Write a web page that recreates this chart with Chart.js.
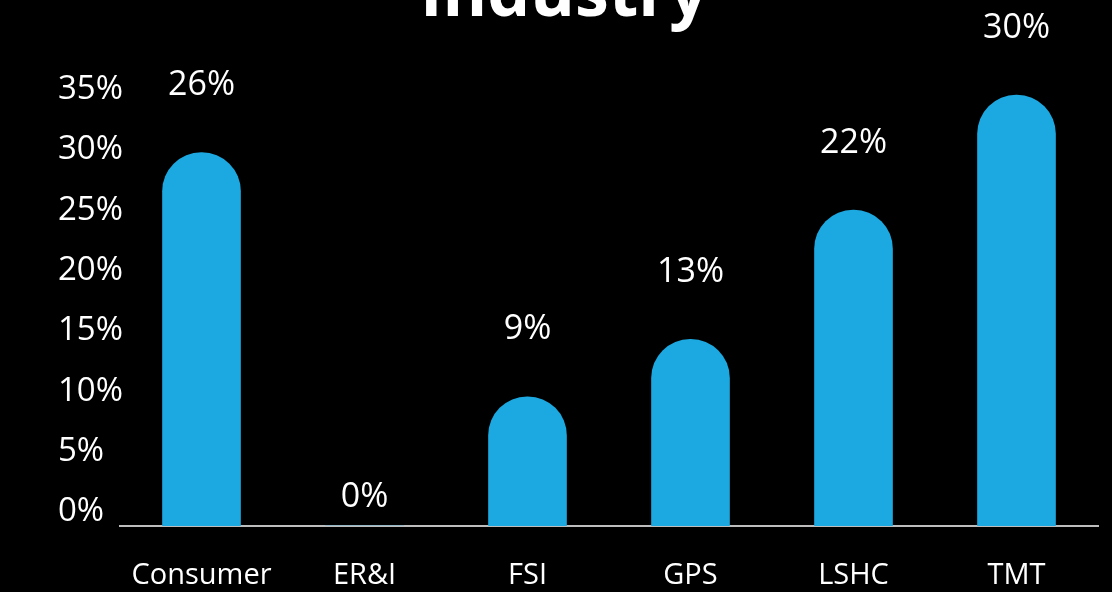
<!DOCTYPE html>
<html>
<head>
    <title>Industry</title>
    <style>
        html, body { margin: 0; padding: 0; background: #000; overflow: hidden; }
        #wrap { position: relative; width: 1112px; height: 592px; }
    </style>
</head>
<body>
    <div id="wrap"><canvas id="industryChart"></canvas></div>
    <script src="https://cdn.jsdelivr.net/npm/chart.js"></script>
    <script>
        const titleText = "Industry";
        const categories = ["Consumer", "ER&I", "FSI", "GPS", "LSHC", "TMT"];
        const shares = [26, 0, 9, 13, 22, 30];
        const tickValues = [0, 5, 10, 15, 20, 25, 30, 35];

        const barBlue = "#1ca9e1";
        const fontFamily = "'Open Sans', 'Noto Sans', sans-serif";

        // prints the percentage above each bar
        const valueLabels = {
            id: "valueLabels",
            afterDatasetsDraw(chart) {
                const ctx = chart.ctx;
                const meta = chart.getDatasetMeta(0);
                ctx.save();
                ctx.fillStyle = "#ffffff";
                ctx.font = "34px " + fontFamily;
                ctx.textAlign = "center";
                ctx.textBaseline = "middle";
                meta.data.forEach((bar, i) => {
                    const v = shares[i];
                    const gap = v ? 67 : 29;
                    ctx.fillText(v + "%", bar.x, bar.y - gap);
                });
                ctx.restore();
            }
        };

        // y labels start a little further in than the title padding allows
        const yLabelIndent = {
            id: "yLabelIndent",
            afterLayout(chart) {
                const y = chart.scales.y;
                y.left = 58;
                y.right = 140;
            }
        };

        const ctx = document.getElementById("industryChart").getContext("2d");
        new Chart(ctx, {
            type: "bar",
            data: {
                labels: categories,
                datasets: [{
                    data: shares,
                    yAxisID: "yBars",
                    backgroundColor: barBlue,
                    borderRadius: { topLeft: 100, topRight: 100, bottomLeft: 0, bottomRight: 0 },
                    borderSkipped: "start",
                    barThickness: 78
                }]
            },
            options: {
                responsive: true,
                maintainAspectRatio: false,
                animation: false,
                layout: { padding: { left: 30, right: 14, top: 0, bottom: 0 } },
                plugins: {
                    legend: { display: false },
                    tooltip: { enabled: false },
                    title: {
                        display: true,
                        text: titleText,
                        color: "#ffffff",
                        font: { family: fontFamily, size: 68, weight: "bold" },
                        padding: { top: -44, bottom: 32 }
                    }
                },
                scales: {
                    x: {
                        grid: { display: false, drawTicks: false },
                        border: { display: true, color: "#bdbdbd", width: 2 },
                        ticks: {
                            color: "#ffffff",
                            padding: 32,
                            font: { family: fontFamily, size: 29 }
                        },
                        afterFit(scale) { scale.height = 66; }
                    },
                    y: {
                        position: "left",
                        min: -1.161,
                        max: 36.66,
                        grid: { display: false, drawTicks: false },
                        border: { display: false },
                        ticks: {
                            color: "#ffffff",
                            padding: 0,
                            crossAlign: "far",
                            font: { family: fontFamily, size: 33 },
                            callback: v => v + "%"
                        },
                        afterBuildTicks(scale) {
                            scale.ticks = tickValues.map(v => ({ value: v }));
                        },
                        afterFit(scale) { scale.width = 90; }
                    },
                    yBars: {
                        display: false,
                        min: 0,
                        max: 31.78
                    }
                }
            },
            plugins: [valueLabels, yLabelIndent]
        });
    </script>
</body>
</html>
